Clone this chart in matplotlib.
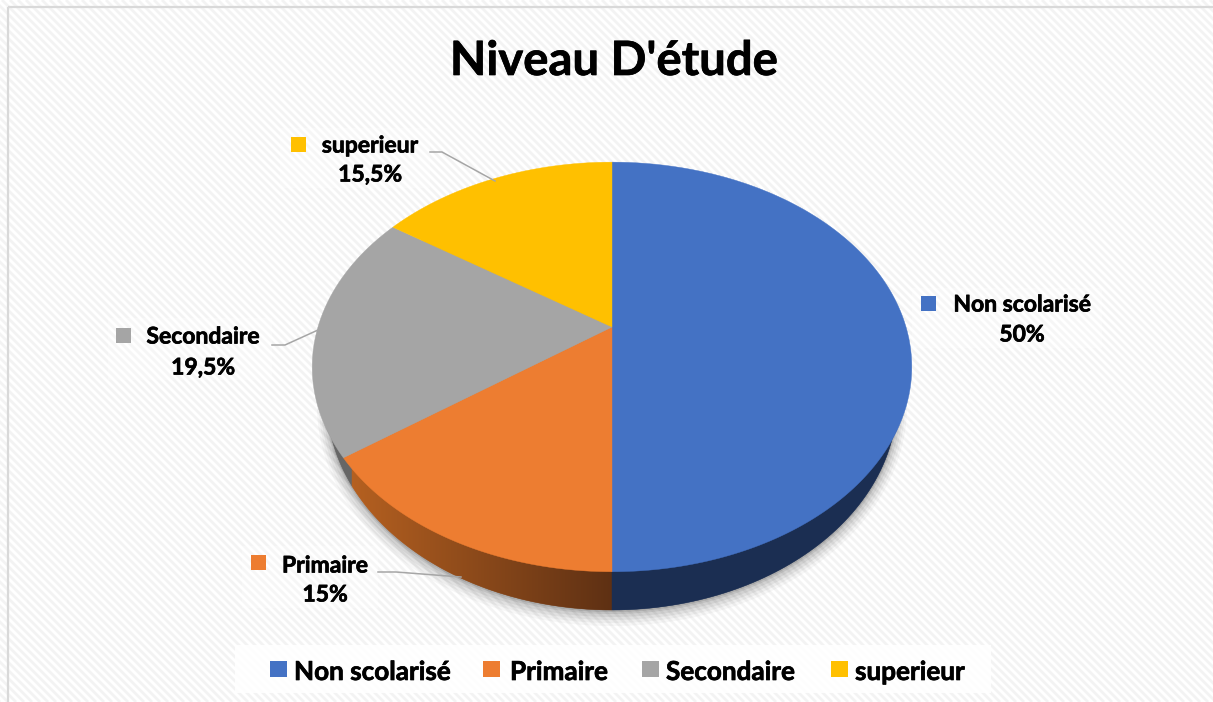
import numpy as np
import matplotlib
matplotlib.use("Agg")
import matplotlib.pyplot as plt
import matplotlib.patheffects as pe
from matplotlib.collections import LineCollection, PolyCollection
from matplotlib.patches import Polygon, Rectangle

categories = ["Non scolarisé", "Primaire", "Secondaire", "superieur"]
values = [50, 15, 19.5, 15.5]
value_labels = ["50%", "15%", "19,5%", "15,5%"]
colors = ["#4472C4", "#ED7D31", "#A5A5A5", "#FFC000"]
title = "Niveau D'étude"

# everything is placed in image pixels
W, H = 1213, 702
plt.rcParams["font.family"] = ["Lato", "DejaVu Sans"]
plt.rcParams["font.weight"] = "bold"
heavy = [pe.withStroke(linewidth=0.5, foreground="black")]

fig = plt.figure(figsize=(W / 100, H / 100), dpi=100)
ax = fig.add_axes([0, 0, 1, 1])
ax.set_xlim(0, W)
ax.set_ylim(H, 0)
ax.axis("off")

# pie seen in perspective: circle -> screen, apex is not the ellipse centre
AX, AY = 612, 327
A, B, K = 294, 197, 0.195


def rim(theta):
    # theta clockwise from 12 o'clock, in radians
    u, v = np.sin(theta), np.cos(theta)
    d = 1 + K * v
    return AX + A * u / d, AY - B * v / d


def top_lower(x):
    return 367 + 205 * np.sqrt(np.clip(1 - ((x - 612) / 300) ** 2, 0, 1))


def bot_lower(x, rx=285, cy=400, ry=210):
    return cy + ry * np.sqrt(np.clip(1 - ((x - 612) / rx) ** 2, 0, 1))


# striped background
offs = np.arange(-H, W + H, 8)
stripes = [[(o, 0), (o + H, H)] for o in offs]
ax.add_collection(LineCollection(stripes, colors="#f3f3f3", linewidths=2.0, zorder=1))
ax.plot([8, 8], [H, 7], color="#d9d9d9", lw=1.6, zorder=2, solid_capstyle="butt")
ax.plot([8, W], [7, 7], color="#d9d9d9", lw=1.6, zorder=2, solid_capstyle="butt")

# translucent boxes behind legend and data labels
ax.add_patch(Rectangle((235, 645), 756, 48, fc="white", ec="none", alpha=0.85, zorder=2))
for x0, y0, w, h in [(912, 288, 190, 60), (280, 128, 150, 60), (108, 318, 164, 62), (242, 546, 136, 62)]:
    ax.add_patch(Rectangle((x0, y0), w, h, fc="white", ec="none", alpha=0.25, zorder=2))

# soft shadow under the pie
t = np.linspace(0, 2 * np.pi, 400)
for grow, dy, alpha in [(10, 6, 0.03), (8, 5, 0.04), (6, 4, 0.05), (4, 3, 0.06), (2, 2, 0.08), (1, 1, 0.1)]:
    xs = 612 + (285 + grow) * np.cos(t)
    ys = 400 + dy + (210 + grow) * np.sin(t)
    ax.add_patch(Polygon(np.column_stack([xs, ys]), fc="black", ec="none", alpha=alpha, zorder=3))

# side wall, one thin strip per pixel column so the orange part can fade
edges = np.arange(327, 898, 1.0)
strips, strip_colors = [], []
for x0, x1 in zip(edges[:-1], edges[1:]):
    strips.append([(x0, top_lower(x0) - 2), (x1, top_lower(x1) - 2), (x1, bot_lower(x1)), (x0, bot_lower(x0))])
    xm = (x0 + x1) / 2
    if xm > 612:
        strip_colors.append("#1B2E52")
    elif xm > 352:
        f = (xm - 352) / 260
        c0 = np.array([0xB5, 0x60, 0x20]) / 255
        c1 = np.array([0x5E, 0x30, 0x13]) / 255
        strip_colors.append(tuple(c0 + (c1 - c0) * f))
    else:
        strip_colors.append("#666666")
ax.add_collection(PolyCollection(strips, facecolors=strip_colors, edgecolors=strip_colors, linewidths=0.3, zorder=4))

# top face, slices start at 12 o'clock and run clockwise
start = 0.0
total = sum(values)
for val, col in zip(values, colors):
    end = start + val / total * 2 * np.pi
    th = np.linspace(start, end, 200)
    xs, ys = rim(th)
    pts = np.column_stack([np.r_[AX, xs], np.r_[AY, ys]])
    ax.add_patch(Polygon(pts, fc=col, ec=col, lw=0.3, zorder=5))
    start = end

# leader lines
leaders = [
    [(430, 152), (442, 152), (495, 181)],
    [(272, 345), (285, 345), (318, 330)],
    [(378, 572), (396, 572), (461, 577)],
]
for pts in leaders:
    px, py = zip(*pts)
    ax.plot(px, py, color="#a6a6a6", lw=1.1, zorder=6)

ax.text(614, 61, title, fontsize=34, ha="center", va="center", color="black", zorder=7, path_effects=heavy)

# data labels: swatch x, swatch y, name centre x, name y, value y
label_pos = [
    (921, 296, 1022, 305, 335),
    (251, 555, 325, 566, 595),
    (116, 328, 203, 337, 368),
    (291, 137, 370, 146, 175),
]
for i, (sx, sy, tx, ny, vy) in enumerate(label_pos):
    ax.add_patch(Rectangle((sx, sy), 15, 15, fc=colors[i], ec="none", zorder=7))
    ax.text(tx, ny, categories[i], fontsize=16.5, ha="center", va="center", color="black", zorder=7, path_effects=heavy)
    ax.text(tx, vy, value_labels[i], fontsize=16.5, ha="center", va="center", color="black", zorder=7, path_effects=heavy)

# legend
legend_pos = [(270, 294), (483, 510), (642, 666), (831, 855)]
for i, (sx, tx) in enumerate(legend_pos):
    ax.add_patch(Rectangle((sx, 661), 17, 16, fc=colors[i], ec="none", zorder=7))
    ax.text(tx, 672, categories[i], fontsize=18.8, ha="left", va="center", color="black", zorder=7, path_effects=heavy)

fig.savefig("out.png", dpi=100)
